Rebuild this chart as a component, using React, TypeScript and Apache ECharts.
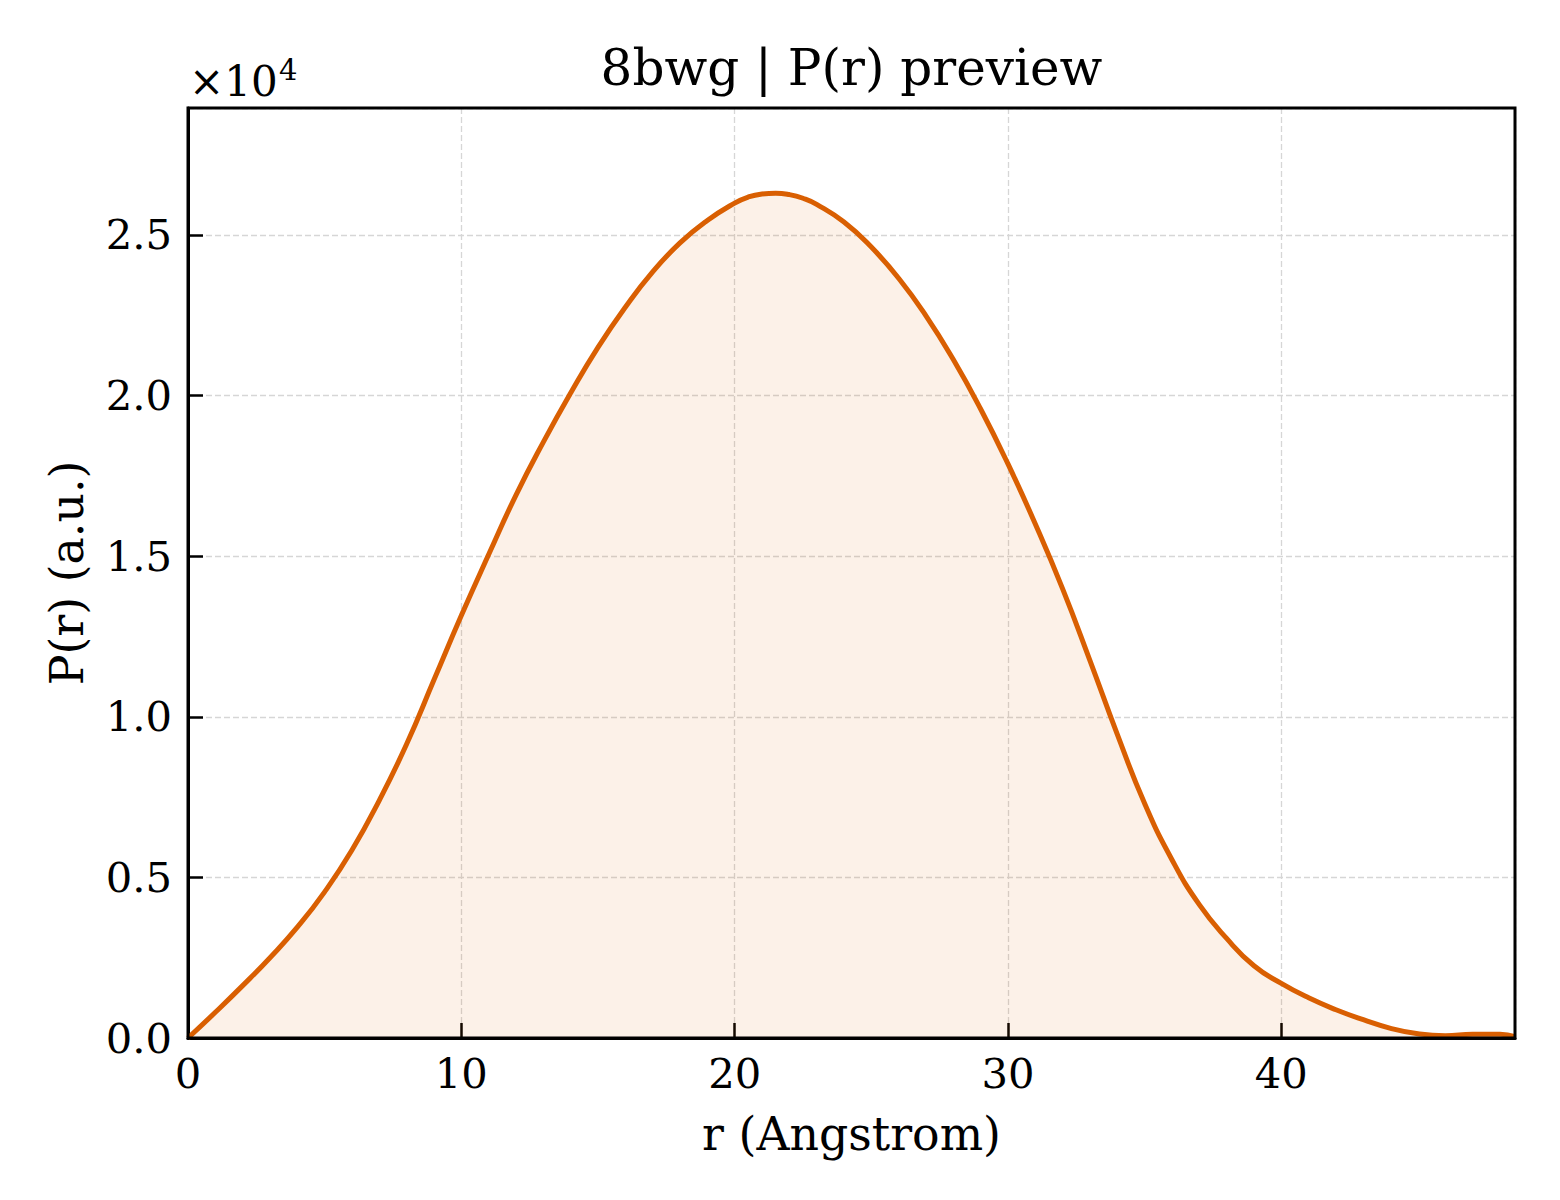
import React, { useEffect, useRef } from "react";
import * as echarts from "echarts";

// r values (Angstrom)
const rValues: number[] = [
  0, 1, 2, 3, 4, 5, 6, 7, 8, 9, 10, 11, 12, 13, 14, 15, 16, 17, 18, 19, 20,
  20.5, 21, 21.5, 22, 22.5, 23, 24, 25, 26, 27, 28, 29, 30, 31, 32, 33, 34,
  35, 36, 37, 38, 39, 40, 41, 42, 43, 44, 45, 46, 47, 48, 48.55,
];
// P(r) values (a.u.)
const pValues: number[] = [
  0, 800, 1630, 2500, 3450, 4550, 5850, 7400, 9150, 11150, 13150, 15050,
  16900, 18550, 20080, 21500, 22750, 23850, 24750, 25450, 25990,
  26180, 26275, 26300, 26255, 26140, 25950, 25400, 24620, 23650, 22480,
  21120, 19580, 17870, 16000, 13980, 11750, 9450, 7300, 5550, 4150, 3100,
  2250, 1700, 1250, 880, 570, 300, 130, 70, 120, 120, 40,
];
const xTicks: number[] = [0, 10, 20, 30, 40];
const yTicks: string[] = ["0.0", "0.5", "1.0", "1.5", "2.0", "2.5"];

const X_MAX = 48.55;
const Y_MAX = 28950;

const GRID = { left: 188, top: 108, right: 45, bottom: 162 };
const W = 1560;
const H = 1200;
const FONT = "DejaVu Serif";

export default function App() {
  const ref = useRef<HTMLDivElement>(null);

  useEffect(() => {
    if (!ref.current) return;
    const chart = echarts.init(ref.current, undefined, { renderer: "svg" });
    const data = rValues.map((r, i) => [r, pValues[i]]);
    const plotW = W - GRID.left - GRID.right;
    const plotH = H - GRID.top - GRID.bottom;

    chart.setOption({
      animation: false,
      backgroundColor: "#ffffff",
      grid: {
        left: GRID.left,
        top: GRID.top,
        right: GRID.right,
        bottom: GRID.bottom,
        containLabel: false,
      },
      xAxis: {
        type: "value",
        min: 0,
        max: X_MAX,
        interval: 10,
        axisLine: { show: true, onZero: false, lineStyle: { color: "#000", width: 3 } },
        axisTick: { show: true, inside: true, length: 15, lineStyle: { color: "#000", width: 2.5 } },
        axisLabel: {
          show: true,
          margin: 14,
          color: "#000",
          fontFamily: FONT,
          fontSize: 41.7,
          showMaxLabel: false,
          formatter: (v: number) => (xTicks.includes(v) ? String(v) : ""),
        },
        splitLine: {
          show: true,
          lineStyle: { color: "#d6d6d6", width: 1.3, type: [6, 3] },
        },
      },
      yAxis: {
        type: "value",
        min: 0,
        max: Y_MAX,
        interval: 5000,
        axisLine: { show: true, onZero: false, lineStyle: { color: "#000", width: 3 } },
        axisTick: { show: true, inside: true, length: 15, lineStyle: { color: "#000", width: 2.5 } },
        axisLabel: {
          show: true,
          margin: 16,
          color: "#000",
          fontFamily: FONT,
          fontSize: 41.7,
          showMaxLabel: false,
          formatter: (v: number) => {
            const idx = Math.round(v / 5000);
            return Math.abs(v - idx * 5000) < 1e-6 && idx < yTicks.length ? yTicks[idx] : "";
          },
        },
        splitLine: {
          show: true,
          lineStyle: { color: "#d6d6d6", width: 1.3, type: [6, 3] },
        },
      },
      series: [
        {
          type: "line",
          data,
          showSymbol: false,
          smooth: 0.5,
          clip: true,
          lineStyle: { color: "#d95f02", width: 5 },
          itemStyle: { color: "#d95f02" },
          areaStyle: { color: "rgba(217,95,2,0.13)", origin: "start" },
          z: 3,
        },
      ],
      graphic: [
        {
          type: "rect",
          z: 100,
          silent: true,
          shape: { x: GRID.left, y: GRID.top, width: plotW, height: plotH },
          style: { fill: "none", stroke: "#000", lineWidth: 3 },
        },
        {
          type: "text",
          x: (GRID.left + W - GRID.right) / 2,
          y: 68,
          style: {
            text: "8bwg | P(r) preview",
            font: `50px '${FONT}'`,
            fill: "#000",
            textAlign: "center",
            textVerticalAlign: "middle",
          },
        },
        {
          type: "text",
          x: (GRID.left + W - GRID.right) / 2,
          y: 1134,
          style: {
            text: "r (Angstrom)",
            font: `45.8px '${FONT}'`,
            fill: "#000",
            textAlign: "center",
            textVerticalAlign: "middle",
          },
        },
        {
          type: "text",
          x: 67,
          y: GRID.top + plotH / 2,
          rotation: Math.PI / 2,
          style: {
            text: "P(r) (a.u.)",
            font: `45.8px '${FONT}'`,
            fill: "#000",
            textAlign: "center",
            textVerticalAlign: "middle",
          },
        },
        {
          type: "text",
          x: 189,
          y: 81,
          style: {
            text: "×10",
            font: `42px '${FONT}'`,
            fill: "#000",
            textAlign: "left",
            textVerticalAlign: "middle",
          },
        },
        {
          type: "text",
          x: 279,
          y: 70,
          style: {
            text: "4",
            font: `29px '${FONT}'`,
            fill: "#000",
            textAlign: "left",
            textVerticalAlign: "middle",
          },
        },
      ],
    });

    return () => {
      chart.dispose();
    };
  }, []);

  return (
    <div
      ref={ref}
      style={{ position: "absolute", left: 0, top: 0, width: W, height: H, background: "#fff" }}
    />
  );
}
